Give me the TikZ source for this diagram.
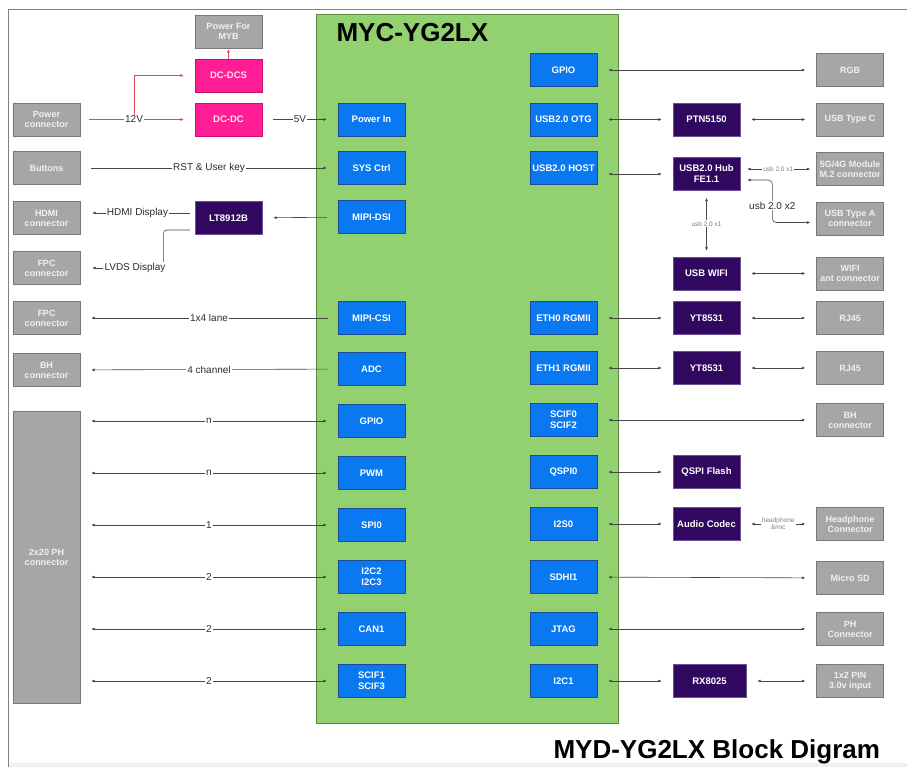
\documentclass[tikz,border=0pt]{standalone}
\usepackage{fontspec}
\setmainfont{Liberation Sans}
\usetikzlibrary{arrows.meta, positioning, calc}
\definecolor{cGray}{RGB}{166,166,166}
\definecolor{cGrayEdge}{RGB}{120,120,120}
\definecolor{cGrayText}{RGB}{240,240,240}
\definecolor{cBlue}{RGB}{10,120,240}
\definecolor{cBlueEdge}{RGB}{25,75,150}
\definecolor{cGreen}{RGB}{146,208,112}
\definecolor{cGreenEdge}{RGB}{90,140,60}
\definecolor{cPurple}{RGB}{48,8,96}
\definecolor{cPurpleEdge}{RGB}{110,80,150}
\definecolor{cMagenta}{RGB}{255,30,150}
\definecolor{cMagEdge}{RGB}{200,20,110}
\definecolor{cRed}{RGB}{225,70,90}
\definecolor{cLine}{RGB}{70,70,70}
\definecolor{cText}{RGB}{45,45,45}
\tikzset{
	conn/.style   ={rectangle, draw=cGrayEdge, fill=cGray, minimum width=67pt, minimum height=33pt, inner sep=1pt, align=center, text=cGrayText, font=\bfseries\fontsize{9}{10}\selectfont},
	ifc/.style    ={rectangle, draw=cBlueEdge, fill=cBlue, minimum width=67pt, minimum height=33pt, inner sep=1pt, align=center, text=white, font=\bfseries\fontsize{9.5}{11}\selectfont},
	chip/.style   ={rectangle, draw=cPurpleEdge, fill=cPurple, minimum width=67pt, minimum height=33pt, inner sep=1pt, align=center, text=white, font=\bfseries\fontsize{9.5}{11}\selectfont},
	pwrchip/.style={rectangle, draw=cMagEdge, fill=cMagenta, minimum width=67pt, minimum height=33pt, inner sep=1pt, align=center, text=pink!40, font=\bfseries\fontsize{9.5}{11}\selectfont},
	socbox/.style ={rectangle, draw=cGreenEdge, fill=cGreen, minimum width=302pt, minimum height=709pt},
	lbl/.style    ={fill=white, inner sep=1pt, text=cText, font=\fontsize{10}{12}\selectfont},
	smalllbl/.style={fill=white, inner sep=1pt, text=gray, align=center, font=\fontsize{6.5}{7}\selectfont},
	link/.style   ={draw=cLine, line width=0.6pt, shorten >=11pt, shorten <=11pt, >={Latex[length=3.5pt,width=3pt]}},
	pwrline/.style={draw=cRed, line width=0.6pt, shorten >=11pt, shorten <=9pt, >={Latex[length=3.5pt,width=3pt]}},
}
\begin{document}
\begin{tikzpicture}[x=1pt, y=-1pt]
	\useasboundingbox (0,0) rectangle (907,767);
	% frame
	\fill[gray!12] (8,763) rectangle (907,767);
	\draw[gray, line width=0.8pt] (8,767) -- (8,9) -- (907,9);
	% SoM
	\node[socbox] (soc) at (467,368.5) {};
	\node[anchor=west, font=\bfseries\fontsize{26}{28}\selectfont] (somtitle) at (333,33) {MYC-YG2LX};
	% left interfaces
	\node[ifc] (pwrin)  at (371.5,119.5) {Power In};
	\node[ifc] (sysctl) at (371.5,168)   {SYS Ctrl};
	\node[ifc] (dsi)    at (371.5,217)   {MIPI-DSI};
	\node[ifc] (csi)    at (371.5,318)   {MIPI-CSI};
	\node[ifc] (adc)    at (371.5,369)   {ADC};
	\node[ifc] (gpioL)  at (371.5,421)   {GPIO};
	\node[ifc] (pwm)    at (371.5,473)   {PWM};
	\node[ifc] (spi)    at (371.5,525)   {SPI0};
	\node[ifc] (iicL)   at (371.5,577)   {I2C2\\I2C3};
	\node[ifc] (can)    at (371.5,629)   {CAN1};
	\node[ifc] (scifL)  at (371.5,681)   {SCIF1\\SCIF3};
	% right interfaces
	\node[ifc] (gpioR)  at (563.5,70)    {GPIO};
	\node[ifc] (otg)    at (563.5,119.5) {USB2.0 OTG};
	\node[ifc] (host)   at (563.5,168)   {USB2.0 HOST};
	\node[ifc] (eth0)   at (563.5,318)   {ETH0 RGMII};
	\node[ifc] (eth1)   at (563.5,368)   {ETH1 RGMII};
	\node[ifc] (scifR)  at (563.5,420)   {SCIF0\\SCIF2};
	\node[ifc] (qspi)   at (563.5,472)   {QSPI0};
	\node[ifc] (iis)    at (563.5,524)   {I2S0};
	\node[ifc] (sdhi)   at (563.5,577)   {SDHI1};
	\node[ifc] (jtag)   at (563.5,629)   {JTAG};
	\node[ifc] (iicR)   at (563.5,681)   {I2C1};
	% left side parts
	\node[conn] (pwrconn) at (46.5,119.5) {Power\\connector};
	\node[conn] (buttons) at (46.5,168)   {Buttons};
	\node[conn] (hdmi)    at (46.5,218)   {HDMI\\connector};
	\node[conn] (fpcA)    at (46.5,268)   {FPC\\connector};
	\node[conn] (fpcB)    at (46.5,318)   {FPC\\connector};
	\node[conn] (bhL)     at (46.5,370)   {BH\\connector};
	\node[conn, minimum height=292pt] (phL) at (46.5,557) {2x20 PH\\connector};
	\node[conn]    (myb)   at (228.5,31.5)  {Power For\\MYB};
	\node[pwrchip] (dcdcs) at (228.5,75.5)  {DC-DCS};
	\node[pwrchip] (dcdc)  at (228.5,119.5) {DC-DC};
	\node[chip]    (lt)    at (228.5,218)   {LT8912B};
	% right side parts
	\node[chip] (ptn)   at (706.5,119.5) {PTN5150};
	\node[chip] (hub)   at (706.5,174)   {USB2.0 Hub\\FE1.1};
	\node[chip] (wifi)  at (706.5,273.5) {USB WIFI};
	\node[chip] (phyA)  at (706.5,318)   {YT8531};
	\node[chip] (phyB)  at (706.5,368)   {YT8531};
	\node[chip] (flash) at (706.5,472)   {QSPI Flash};
	\node[chip] (codec) at (706.5,524)   {Audio Codec};
	\node[chip, minimum width=73pt] (rtc) at (709.5,681) {RX8025};
	\node[conn] (rgb)   at (850,70)    {RGB};
	\node[conn] (typec) at (850,119.5) {USB Type C};
	\node[conn] (mtwo)  at (850,169)   {5G/4G Module\\M.2 connector};
	\node[conn] (typea) at (850,218.5) {USB Type A\\connector};
	\node[conn] (ant)   at (850,273.5) {WIFI\\ant connector};
	\node[conn] (rjA)   at (850,318)   {RJ45};
	\node[conn] (rjB)   at (850,368)   {RJ45};
	\node[conn] (bhR)   at (850,420)   {BH\\connector};
	\node[conn] (phone) at (850,524)   {Headphone\\Connector};
	\node[conn] (sd)    at (850,578)   {Micro SD};
	\node[conn] (phR)   at (850,629)   {PH\\Connector};
	\node[conn] (pin)   at (850,681)   {1x2 PIN\\3.0v input};
	% power
	\draw[pwrline,->] (pwrconn) -- node[lbl, pos=0.47] (vin) {12V} (dcdc);
	\draw[pwrline,->, shorten <=0pt] (vin.north) |- (dcdcs.west);
	\draw[pwrline,->, shorten <=0pt, shorten >=1pt] (dcdcs) -- (myb);
	\draw[link,->] (dcdc) -- node[lbl] {5V} (pwrin);
	\draw[link,->] (buttons) -- node[lbl] {RST \& User key} (sysctl);
	% display
	\draw[link,->] (dsi) -- (lt);
	\draw[link,->, shorten <=5pt, shorten >=12pt] ([yshift=5pt]lt.west) -- node[lbl] {HDMI Display} ([yshift=5pt]hdmi.east);
	\node[lbl] (lvds) at (135,268) {LVDS Display};
	\draw[link, rounded corners=3pt, shorten <=5pt, shorten >=0pt] ([yshift=-12pt]lt.west) -| ([xshift=-3pt]lvds.north east);
	\draw[link,->, shorten <=0pt, shorten >=12pt] (lvds.west) -- (fpcA.east);
	\draw[link,->, shorten <=10pt, shorten >=11pt] (csi) -- node[lbl] {1x4 lane} (fpcB);
	\draw[link,->, shorten <=10pt, shorten >=11pt] (adc) -- node[lbl] {4 channel} (bhL);
	% 2x20 header
	\foreach \n/\lab in {gpioL/n, pwm/n, spi/1, iicL/2, can/2, scifL/2}
		\draw[link,<->] (phL.east |- \n) -- node[lbl] {\lab} (\n.west);
	% right links
	\foreach \a/\b in {gpioR/rgb, otg/ptn, eth0/phyA, eth1/phyB, scifR/bhR, qspi/flash, iis/codec, sdhi/sd, jtag/phR, iicR/rtc, ptn/typec, wifi/ant, rtc/pin}
		\draw[link,<->] (\a) -- (\b);
	\draw[link,<->, line width=1pt] (phyA) -- (rjA);
	\draw[link,<->, line width=1pt] (phyB) -- (rjB);
	\draw[link,<->] (host.east |- hub) -- (hub.west);
	\draw[link,<->] (codec) -- node[smalllbl] {headphone\\\&mic} (phone);
	% usb hub
	\draw[link,<->, shorten <=7pt, shorten >=6pt] (hub.east |- mtwo) -- node[smalllbl] {usb 2.0 x1} (mtwo.west);
	\draw[link,<->, shorten <=7pt, shorten >=6pt] (hub) -- node[smalllbl] {usb 2.0 x1} (wifi);
	\draw[link,<->, rounded corners=4pt, shorten <=7pt, shorten >=6pt] ([yshift=-6pt]hub.east) -| node[lbl, pos=0.8] {usb 2.0 x2} ([xshift=-44pt,yshift=-4pt]typea.west) -- ([yshift=-4pt]typea.west);
	% caption
	\node[anchor=west, font=\bfseries\fontsize{26}{28}\selectfont] (caption) at (550,752) {MYD-YG2LX Block Digram};
\end{tikzpicture}
\end{document}
